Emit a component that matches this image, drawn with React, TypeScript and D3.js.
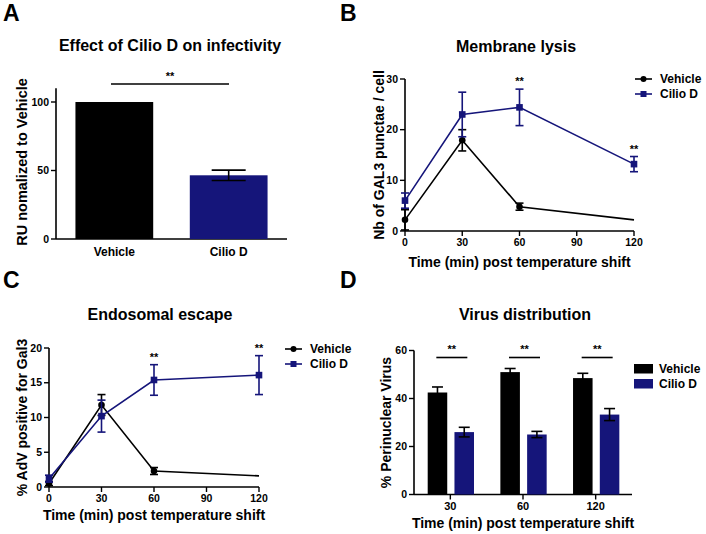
import React from "react";
import * as d3 from "d3";

const FONT = "'Liberation Sans', Arial, sans-serif";
const NAVY = "#15157a";

// Panel A
const aCats = ["Vehicle", "Cilio D"];
const aValues = [100, 46.5];
const aErr = [0, 3.8];
const aTicks = [0, 50, 100];

// Panel B
const bTimes = [0, 30, 60, 120];
const bVehicle = [2.2, 17.9, 4.8, 2.2];
const bVehicleErr = [2.0, 2.1, 0.7, 0];
const bCilio = [6.0, 23.0, 24.4, 13.2];
const bCilioErr = [1.5, 4.4, 3.6, 1.5];
const bStars = [60, 120];
const bTicksY = [0, 10, 20, 30];

// Panel C
const cTimes = [0, 30, 60, 120];
const cVehicle = [0.5, 11.8, 2.3, 1.6];
const cVehicleErr = [0.3, 1.5, 0.5, 0];
const cCilio = [1.2, 10.2, 15.4, 16.1];
const cCilioErr = [0.5, 2.3, 2.2, 2.8];
const cStars = [60, 120];
const cTicksY = [0, 5, 10, 15, 20];

const timeTicks = [0, 30, 60, 90, 120];

// Panel D
const dGroups = ["30", "60", "120"];
const dSeries = ["Vehicle", "Cilio D"];
const dVehicle = [42.5, 51.0, 48.5];
const dVehicleErr = [2.3, 1.5, 2.0];
const dCilio = [26.0, 25.0, 33.3];
const dCilioErr = [2.0, 1.3, 2.5];
const dTicksY = [0, 20, 40, 60];

const txt = (size: number) => ({ fontFamily: FONT, fontWeight: 700, fontSize: size });

function YAxis({ x, y, ticks }: { x: number; y: any; ticks: number[] }) {
  const [d0, d1] = y.domain();
  return (
    <g>
      <line x1={x} x2={x} y1={y(d0)} y2={y(d1)} stroke="#000" strokeWidth={1.6} />
      {ticks.map((t) => (
        <g key={t}>
          <line x1={x - 5} x2={x} y1={y(t)} y2={y(t)} stroke="#000" strokeWidth={1.4} />
          <text x={x - 7} y={y(t)} dy="0.35em" textAnchor="end" style={txt(10.5)}>
            {t}
          </text>
        </g>
      ))}
    </g>
  );
}

function ErrBar({ x, y0, y1, color, w = 4 }: any) {
  return (
    <g stroke={color} strokeWidth={1.6}>
      <line x1={x} x2={x} y1={y0} y2={y1} />
      <line x1={x - w} x2={x + w} y1={y0} y2={y0} />
      <line x1={x - w} x2={x + w} y1={y1} y2={y1} />
    </g>
  );
}

function LinePanel(props: any) {
  const { x, y, times, veh, vehErr, cil, cilErr, stars, yTicks, title, titleX, titleY, ylabel, ylabelX, legX, legY, tickY, xTitleY, starOffset } = props;
  const line = d3.line<number>().x((_, i) => x(times[i])).y((v) => y(v));
  const series = [
    { vals: veh, err: vehErr, color: "#000", marker: "circle" },
    { vals: cil, err: cilErr, color: NAVY, marker: "square" },
  ];
  const [x0, x1] = x.range();
  const yb = y(0);
  return (
    <g>
      <text x={titleX} y={titleY} textAnchor="middle" style={txt(16)}>{title}</text>
      <YAxis x={x0} y={y} ticks={yTicks} />
      <line x1={x0} x2={x1} y1={yb} y2={yb} stroke="#000" strokeWidth={1.6} />
      {timeTicks.map((t) => (
        <g key={t}>
          <line x1={x(t)} x2={x(t)} y1={yb} y2={yb + 5} stroke="#000" strokeWidth={1.4} />
          <text x={x(t)} y={tickY} textAnchor="middle" style={txt(10.5)}>{t}</text>
        </g>
      ))}
      <text x={(x0 + x1) / 2} y={xTitleY} textAnchor="middle" style={txt(14)}>
        Time (min) post temperature shift
      </text>
      <text transform={`translate(${ylabelX},${(y(y.domain()[0]) + y(y.domain()[1])) / 2}) rotate(-90)`} textAnchor="middle" style={txt(14)}>
        {ylabel}
      </text>
      {series.map((s, si) => (
        <g key={si}>
          <path d={line(s.vals) || ""} fill="none" stroke={s.color} strokeWidth={1.6} />
          {s.vals.map((v: number, i: number) =>
            s.err[i] > 0 ? (
              <ErrBar key={"e" + i} x={x(times[i])} y0={y(v + s.err[i])} y1={y(Math.max(0, v - s.err[i]))} color={s.color} />
            ) : null
          )}
          {s.vals.map((v: number, i: number) =>
            i === times.length - 1 && s.err[i] === 0 ? null : s.marker === "circle" ? (
              <circle key={"m" + i} cx={x(times[i])} cy={y(v)} r={3.3} fill={s.color} />
            ) : (
              <rect key={"m" + i} x={x(times[i]) - 3.3} y={y(v) - 3.3} width={6.6} height={6.6} fill={s.color} />
            )
          )}
        </g>
      ))}
      {stars.map((t: number) => {
        const i = times.indexOf(t);
        return (
          <text key={t} x={x(t)} y={y(cil[i] + cilErr[i]) - starOffset} textAnchor="middle" style={txt(11)}>**</text>
        );
      })}
      {["Vehicle", "Cilio D"].map((name, i) => (
        <g key={name} transform={`translate(${legX},${legY + i * 15})`}>
          <line x1={0} x2={17} y1={0} y2={0} stroke={series[i].color} strokeWidth={1.6} />
          {i === 0 ? (
            <circle cx={8.5} cy={0} r={3} fill="#000" />
          ) : (
            <rect x={5.5} y={-3} width={6} height={6} fill={NAVY} />
          )}
          <text x={25} y={0} dy="0.35em" style={txt(12)}>{name}</text>
        </g>
      ))}
    </g>
  );
}

export default function App() {
  // Panel A scales
  const xA = d3.scaleBand<string>().domain(aCats).range([56, 287]).paddingInner(0.32).paddingOuter(0.17);
  const yA = d3.scaleLinear().domain([0, 110]).range([239, 88.3]);

  // Panel B / C scales
  const xB = d3.scaleLinear().domain([0, 120]).range([405, 634]);
  const yB = d3.scaleLinear().domain([0, 30]).range([231, 79]);
  const xC = d3.scaleLinear().domain([0, 120]).range([49, 259]);
  const yC = d3.scaleLinear().domain([0, 20]).range([487, 348]);

  // Panel D scales
  const xD = d3.scaleBand<string>().domain(dGroups).range([414, 632]).padding(0);
  const xD1 = d3.scaleBand<string>().domain(dSeries).range([13.7, 60]).paddingInner(0.27).paddingOuter(0);
  const yD = d3.scaleLinear().domain([0, 60]).range([494.5, 350.5]);
  const dVals = [dVehicle, dCilio];
  const dErrs = [dVehicleErr, dCilioErr];
  const dColors = ["#000", NAVY];

  return (
    <svg width={706} height={534} style={{ position: "absolute", left: 0, top: 0, background: "#fff" }}>
      <rect width={706} height={534} fill="#fff" />
      {/* panel letters */}
      <text x={3} y={21} style={txt(23)}>A</text>
      <text x={340} y={21} style={txt(23)}>B</text>
      <text x={3} y={288} style={txt(23)}>C</text>
      <text x={340} y={288} style={txt(23)}>D</text>

      {/* Panel A */}
      <text x={170} y={51} textAnchor="middle" style={txt(16)}>Effect of Cilio D on infectivity</text>
      <YAxis x={56} y={yA} ticks={aTicks} />
      <line x1={56} x2={287} y1={yA(0)} y2={yA(0)} stroke="#000" strokeWidth={1.6} />
      {aCats.map((c, i) => (
        <g key={c}>
          <rect x={xA(c)} y={yA(aValues[i])} width={xA.bandwidth()} height={yA(0) - yA(aValues[i])} fill={i === 0 ? "#000" : NAVY} />
          {aErr[i] > 0 && (
            <ErrBar x={xA(c)! + xA.bandwidth() / 2} y0={yA(aValues[i] + aErr[i])} y1={yA(aValues[i] - aErr[i])} color="#000" w={17} />
          )}
          <text x={xA(c)! + xA.bandwidth() / 2} y={256} textAnchor="middle" style={txt(12)}>{c}</text>
        </g>
      ))}
      <line x1={111} x2={229} y1={84} y2={84} stroke="#000" strokeWidth={1.6} />
      <text x={170} y={80} textAnchor="middle" style={txt(11)}>**</text>
      <text transform={`translate(27,162) rotate(-90)`} textAnchor="middle" style={txt(14.5)}>RU nomalized to Vehicle</text>

      {/* Panel B */}
      <LinePanel x={xB} y={yB} times={bTimes} veh={bVehicle} vehErr={bVehicleErr} cil={bCilio} cilErr={bCilioErr}
        stars={bStars} yTicks={bTicksY} title="Membrane lysis" titleX={516} titleY={52}
        ylabel="Nb of GAL3 punctae / cell" ylabelX={384} legX={635} legY={79} tickY={246} xTitleY={267} starOffset={4} />

      {/* Panel C */}
      <LinePanel x={xC} y={yC} times={cTimes} veh={cVehicle} vehErr={cVehicleErr} cil={cCilio} cilErr={cCilioErr}
        stars={cStars} yTicks={cTicksY} title="Endosomal escape" titleX={160} titleY={320}
        ylabel="% AdV positive for Gal3" ylabelX={27} legX={285} legY={349} tickY={502} xTitleY={520} starOffset={4} />

      {/* Panel D */}
      <text x={525} y={320} textAnchor="middle" style={txt(16)}>Virus distribution</text>
      <YAxis x={414} y={yD} ticks={dTicksY} />
      <line x1={414} x2={632} y1={yD(0)} y2={yD(0)} stroke="#000" strokeWidth={1.6} />
      {dGroups.map((g, gi) => {
        const gx = xD(g)!;
        const cx = gx + xD.bandwidth() / 2;
        return (
          <g key={g}>
            {dSeries.map((s, si) => {
              const v = dVals[si][gi];
              const e = dErrs[si][gi];
              const bx = gx + xD1(s)!;
              return (
                <g key={s}>
                  <rect x={bx} y={yD(v)} width={xD1.bandwidth()} height={yD(0) - yD(v)} fill={dColors[si]} />
                  <ErrBar x={bx + xD1.bandwidth() / 2} y0={yD(v + e)} y1={yD(v - e)} color="#000" w={5.5} />
                </g>
              );
            })}
            <line x1={cx} x2={cx} y1={yD(0)} y2={yD(0) + 5} stroke="#000" strokeWidth={1.4} />
            <text x={cx} y={510} textAnchor="middle" style={txt(11)}>{g}</text>
            <line x1={cx - 14} x2={cx + 17} y1={357.5} y2={357.5} stroke="#000" strokeWidth={1.6} />
            <text x={cx + 1.5} y={353} textAnchor="middle" style={txt(11)}>**</text>
          </g>
        );
      })}
      <text x={523} y={528} textAnchor="middle" style={txt(14)}>Time (min) post temperature shift</text>
      <text transform={`translate(391,${(yD(0) + yD(60)) / 2}) rotate(-90)`} textAnchor="middle" style={txt(14)}>% Perinuclear Virus</text>
      {dSeries.map((s, si) => (
        <g key={s} transform={`translate(634,${364 + si * 15})`}>
          <rect x={0} y={0} width={19} height={9.5} fill={dColors[si]} />
          <text x={25} y={4.75} dy="0.35em" style={txt(12)}>{s}</text>
        </g>
      ))}
    </svg>
  );
}
